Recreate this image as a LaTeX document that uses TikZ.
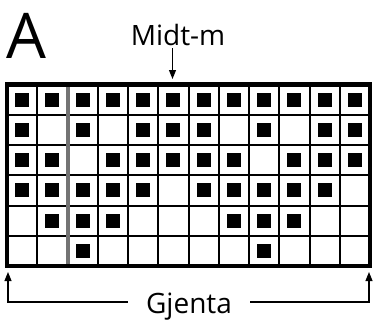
\documentclass[tikz,border=0pt]{standalone}
\usepackage{fontspec}
\setmainfont{Open Sans}
\usetikzlibrary{arrows.meta,calc}

\tikzset{
  tip/.style={-{Triangle[length=9pt,width=7pt]},line width=1.1pt},
  label/.style={font=\fontsize{28}{30}\selectfont,inner sep=3pt},
  stitch/.style={fill=black}
}

\begin{document}
\begin{tikzpicture}[x=1pt,y=-1pt]
		\useasboundingbox (0,0) rectangle (373,322);
		\pgfmathsetmacro{\cellSize}{30.25}
		\pgfmathsetmacro{\boxSize}{14}
		
		% Grid corners
		\coordinate (nw) at (7,84.5);
		\coordinate (se) at (370,266);
		
		% Filled stitches - the 6 wide motif, twice
		\foreach \r/\cols in {1/{1,2,3,4,5,6},2/{1,3,5,6},3/{1,2,4,5,6},4/{1,2,3,4,5},5/{2,3,4},6/{3}} {
			\foreach \c in \cols {
				\foreach \k in {0,1} {
					\fill[stitch] ($(nw)+({(\c+6*\k-0.5)*\cellSize-\boxSize/2},{(\r-0.5)*\cellSize-\boxSize/2})$) rectangle ++(\boxSize,\boxSize);
				}
			}
		}
		
		% Grid lines
		\foreach \x in {1,...,11} {
			\draw[line width=2pt] ($(nw)+(\x*\cellSize,0)$) -- ($(nw)+(\x*\cellSize,6*\cellSize)$);
		}
		\foreach \y in {1,...,5} {
			\draw[line width=2pt] ($(nw)+(0,\y*\cellSize)$) -- ($(nw)+(12*\cellSize,\y*\cellSize)$);
		}
		\draw[line width=4pt,color=black!55] ($(nw)+(2*\cellSize,0)$) -- ($(nw)+(2*\cellSize,6*\cellSize)$);
		\draw[line width=4.5pt] (nw) rectangle (se);
		
		% Labels
		\node[font=\fontsize{63}{66}\selectfont,anchor=base west,inner sep=0pt] (letter) at (6,58) {A};
		\node[label,anchor=base] (midt) at (178,45) {Midt-m};
		\coordinate (mid) at (172.5,79);
		\draw[tip] (midt.south -| mid) -- (mid);
		
		% Repeat bracket
		\node[label,anchor=base,inner xsep=18pt] (gjenta) at (189,313) {Gjenta};
		\coordinate (left) at (8,272);
		\coordinate (right) at (369,272);
		\draw[tip] (gjenta.west |- 0,302) -| (left);
		\draw[tip] (gjenta.east |- 0,302) -| (right);
	\end{tikzpicture}
\end{document}
